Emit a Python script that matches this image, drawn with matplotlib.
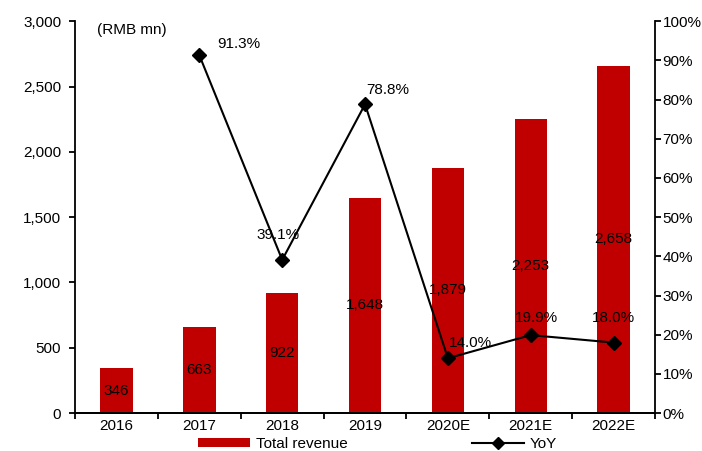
import matplotlib
matplotlib.use("Agg")
import matplotlib.pyplot as plt
import numpy as np
from matplotlib.lines import Line2D
from matplotlib.patches import Patch
from matplotlib.ticker import FuncFormatter

years = ["2016", "2017", "2018", "2019", "2020E", "2021E", "2022E"]
revenue = [346, 663, 922, 1648, 1879, 2253, 2658]
yoy = [None, 91.3, 39.1, 78.8, 14.0, 19.9, 18.0]
# label placement relative to each marker (points) and horizontal alignment
yoy_offsets = [None, (13, 8), (-3, 18), (1, 10), (1, 11), (4, 12), (0, 18)]
yoy_align = [None, "left", "center", "left", "left", "center", "center"]

plt.rcParams["font.family"] = ["Liberation Sans", "DejaVu Sans"]
plt.rcParams["font.size"] = 11

RED = "#c00000"

fig = plt.figure(figsize=(7.02, 4.51), dpi=100)
ax = fig.add_axes([0.107, 0.084, 0.826, 0.869])
ax2 = ax.twinx()

x = np.arange(len(years))
ax.bar(x, revenue, width=0.39, color=RED, zorder=2)
for xi, val in zip(x, revenue):
    ax.text(xi, val / 2, f"{val:,}", ha="center", va="center", zorder=3)

ax.set_xlim(-0.5, len(years) - 0.5)
ax.set_ylim(0, 3000)
ax.set_yticks(np.arange(0, 3001, 500))
ax.yaxis.set_major_formatter(FuncFormatter(lambda v, _: f"{v:,.0f}"))
ax.set_xticks(x)
ax.set_xticklabels(years)
ax.set_xticks(np.arange(-0.5, len(years), 1), minor=True)
ax.tick_params(axis="x", which="major", length=0, pad=4)
ax.tick_params(axis="x", which="minor", length=4, width=1.3, direction="out")
ax.tick_params(axis="y", length=4, width=1.3, direction="out", pad=6)
ax.text(0.038, 0.995, "(RMB mn)", transform=ax.transAxes, ha="left", va="top")

xl = [xi for xi, v in zip(x, yoy) if v is not None]
yl = [v for v in yoy if v is not None]
ax2.plot(xl, yl, color="black", lw=1.5, marker="D", ms=7, zorder=4)
for xi, v, off, ha in zip(x, yoy, yoy_offsets, yoy_align):
    if v is None:
        continue
    ax2.annotate(f"{v:.1f}%", (xi, v), xytext=off, textcoords="offset points",
                 ha=ha, va="center")
ax2.set_ylim(0, 100)
ax2.set_yticks(np.arange(0, 101, 10))
ax2.yaxis.set_major_formatter(FuncFormatter(lambda v, _: f"{v:.0f}%"))
ax2.tick_params(axis="y", length=4, width=1.3, direction="out", pad=1.5)

for a in (ax, ax2):
    a.spines["top"].set_visible(False)
    for s in a.spines.values():
        s.set_linewidth(1.3)
ax2.spines["left"].set_visible(False)
ax.spines["right"].set_visible(False)

handles = [
    Patch(facecolor=RED, label="Total revenue"),
    Line2D([], [], color="black", lw=1.5, marker="D", ms=6, label="YoY"),
]
fig.legend(handles=handles, loc="center", bbox_to_anchor=(0.538, 0.016), ncol=2,
           frameon=False, columnspacing=8.1, handlelength=3.4, handleheight=0.6,
           handletextpad=0.4)

fig.savefig("out.png", dpi=100)
